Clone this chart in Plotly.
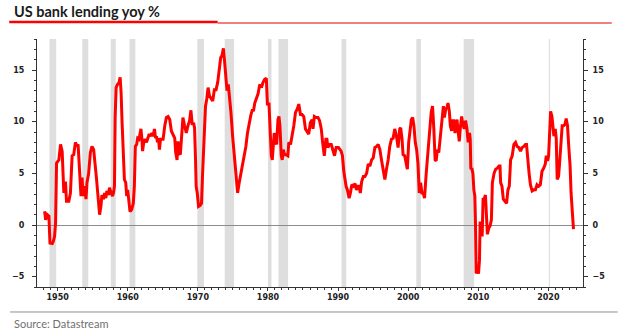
import plotly.graph_objects as go

# US bank lending, year-on-year % change (decimal years)
years = [
    1948.14, 1948.28, 1948.52, 1948.75, 1948.90,
    1949.23, 1949.37, 1949.56, 1949.70, 1949.79, 1949.84,
    1950.17, 1950.41, 1950.64, 1950.78, 1950.88,
    1951.11, 1951.26, 1951.59, 1951.82,
    1952.06, 1952.29, 1952.53, 1952.77, 1952.91,
    1953.10, 1953.33, 1953.48, 1953.62, 1953.85,
    1954.04, 1954.18, 1954.42, 1954.66, 1954.89,
    1955.13, 1955.27, 1955.51, 1955.69, 1955.98,
    1956.17, 1956.31, 1956.54, 1956.69, 1956.87,
    1957.02, 1957.25, 1957.39, 1957.63, 1957.82, 1957.96,
    1958.10, 1958.20, 1958.34, 1958.53, 1958.76, 1958.91,
    1959.05, 1959.19, 1959.38, 1959.52, 1959.71, 1959.85, 1959.99,
    1960.13, 1960.32, 1960.56, 1960.79, 1960.94,
    1961.08, 1961.27, 1961.41, 1961.60, 1961.74, 1961.88,
    1962.02, 1962.11, 1962.30, 1962.49, 1962.68, 1962.87,
    1963.06, 1963.25, 1963.44, 1963.62, 1963.81, 1963.96,
    1964.10, 1964.24, 1964.38, 1964.52, 1964.67, 1964.86,
    1965.04, 1965.28, 1965.51, 1965.75, 1965.99, 1966.22, 1966.46, 1966.70, 1966.84,
    1967.03, 1967.17, 1967.31, 1967.50, 1967.64, 1967.87,
    1968.11, 1968.35, 1968.58, 1968.82,
    1969.01, 1969.20, 1969.39, 1969.53, 1969.67, 1969.76, 1969.91,
    1970.10, 1970.33, 1970.52, 1970.66, 1970.80, 1970.94,
    1971.09, 1971.27, 1971.46, 1971.65, 1971.89,
    1972.12, 1972.36, 1972.60, 1972.83,
    1973.07, 1973.26, 1973.45, 1973.64, 1973.83,
    1974.01, 1974.16, 1974.34, 1974.49, 1974.72, 1974.96,
    1975.19, 1975.43, 1975.67, 1975.90,
    1976.14, 1976.37, 1976.61, 1976.85,
    1977.08, 1977.32, 1977.55, 1977.79, 1977.93,
    1978.12, 1978.36, 1978.59, 1978.83,
    1979.07, 1979.30, 1979.54, 1979.77, 1979.92,
    1980.15, 1980.29, 1980.48, 1980.62, 1980.76, 1980.90,
    1981.09, 1981.24, 1981.43, 1981.57, 1981.71, 1981.90,
    1982.04, 1982.18, 1982.37, 1982.61, 1982.84, 1982.98,
    1983.22, 1983.46, 1983.69, 1983.93,
    1984.17, 1984.40, 1984.64, 1984.87,
    1985.11, 1985.35, 1985.58, 1985.82,
    1986.05, 1986.29, 1986.43, 1986.62, 1986.85,
    1987.14, 1987.37, 1987.61, 1987.80,
    1988.04, 1988.27, 1988.41, 1988.55, 1988.79,
    1989.03, 1989.26, 1989.50, 1989.73,
    1990.06, 1990.44, 1990.63, 1990.82,
    1991.01, 1991.15, 1991.34, 1991.58, 1991.77, 1991.96,
    1992.19, 1992.43, 1992.62, 1992.81,
    1993.00, 1993.18, 1993.37, 1993.61, 1993.84,
    1994.08, 1994.31, 1994.55, 1994.79,
    1995.02, 1995.26, 1995.50, 1995.73, 1995.97,
    1996.20, 1996.44, 1996.68, 1996.91,
    1997.15, 1997.38, 1997.62, 1997.86,
    1998.09, 1998.33, 1998.57, 1998.80, 1998.94,
    1999.13, 1999.28, 1999.51, 1999.75, 1999.89,
    2000.08, 2000.27, 2000.46, 2000.65, 2000.83,
    2001.02, 2001.21, 2001.40, 2001.59, 2001.78, 2001.97,
    2002.15, 2002.34, 2002.58, 2002.81,
    2003.05, 2003.29, 2003.48, 2003.67, 2003.85,
    2004.00, 2004.18, 2004.37, 2004.56, 2004.84,
    2005.03, 2005.17, 2005.36, 2005.55, 2005.69, 2005.88,
    2006.02, 2006.21, 2006.36, 2006.50, 2006.69, 2006.83, 2006.97,
    2007.16, 2007.30, 2007.44, 2007.63, 2007.82,
    2008.01, 2008.19, 2008.38, 2008.57, 2008.76, 2008.86, 2008.95,
    2009.09, 2009.24, 2009.38, 2009.52, 2009.61, 2009.71, 2009.90,
    2010.04, 2010.18, 2010.27, 2010.41, 2010.56, 2010.70, 2010.84,
    2011.03, 2011.17, 2011.31, 2011.50, 2011.69, 2011.88,
    2012.02, 2012.26, 2012.49, 2012.73, 2012.97,
    2013.11, 2013.20, 2013.39, 2013.58, 2013.82,
    2014.05, 2014.24, 2014.43, 2014.62, 2014.85,
    2015.09, 2015.33, 2015.56, 2015.80,
    2016.04, 2016.27, 2016.51, 2016.74, 2016.89,
    2017.07, 2017.26, 2017.45, 2017.69, 2017.92,
    2018.16, 2018.39, 2018.63, 2018.86,
    2019.10, 2019.34, 2019.57, 2019.71, 2019.90,
    2020.04, 2020.19, 2020.33, 2020.52, 2020.66, 2020.80, 2020.99,
    2021.13, 2021.27, 2021.46, 2021.60, 2021.79, 2021.98,
    2022.17, 2022.36, 2022.55, 2022.74, 2022.92,
    2023.11, 2023.25, 2023.40, 2023.59,
]

lending_yoy = [
    1.33, 0.5, 1.0, 0.85, -1.75,
    -1.8, -1.6, -1.1, 0.2, 2.8, 6.0,
    6.3, 7.8, 7.15, 5.4, 3.1,
    4.2, 2.3, 2.3, 3.1,
    6.7, 6.8, 8.0, 7.6, 7.8,
    5.4, 2.8, 4.6, 2.8, 3.75,
    2.5, 4.1, 5.0, 7.0, 7.6,
    7.3, 6.0, 4.7, 3.3, 1.0,
    1.8, 2.9, 2.5, 3.1, 2.6,
    3.3, 2.9, 3.6, 3.1, 2.8, 3.1,
    3.75, 10.4, 13.3, 13.6, 13.8, 14.3,
    12.8, 9.9, 6.7, 4.4, 4.1, 2.8, 3.4,
    2.1, 1.3, 1.5, 2.1, 3.75,
    7.6, 7.8, 8.4, 8.3, 8.9, 9.3,
    8.3, 7.15, 8.1, 8.3, 8.0, 8.4,
    8.8, 8.6, 8.9, 8.6, 9.3, 8.4,
    8.6, 8.0, 8.4, 7.3, 8.3, 8.3,
    8.3, 9.6, 10.4, 10.5, 10.2, 9.1, 8.8, 8.4, 7.0,
    6.3, 8.1, 7.0, 6.8, 8.4, 10.4,
    9.6, 8.9, 9.6, 10.1,
    11.1, 9.7, 9.9, 9.4, 6.3, 3.75, 3.1,
    1.8, 1.9, 2.1, 4.7, 7.3, 8.4,
    11.5, 12.2, 13.3, 12.5, 12.3,
    12.0, 13.1, 13.1, 13.8,
    15.4, 16.2, 16.4, 17.1, 15.7,
    14.4, 13.0, 13.6, 12.7, 10.9, 8.6,
    6.7, 4.7, 3.1, 4.1,
    5.0, 6.0, 6.5, 7.6,
    8.9, 9.9, 10.6, 11.2, 11.0,
    11.8, 12.2, 12.7, 13.6,
    13.3, 13.8, 14.1, 14.2, 11.7,
    11.7, 9.6, 6.7, 6.3, 8.0, 8.9,
    8.0, 7.8, 10.2, 10.5, 9.6, 6.7,
    6.3, 7.3, 6.8, 6.8, 6.7, 8.0,
    7.8, 8.6, 9.6, 10.9,
    11.2, 11.7, 10.7, 10.7,
    10.5, 9.3, 9.1, 8.8,
    9.9, 10.2, 9.3, 10.5, 10.4,
    10.4, 10.1, 9.3, 8.0,
    6.7, 8.3, 8.3, 7.5, 7.8,
    7.8, 7.3, 6.7, 7.5,
    7.5, 7.15, 6.7, 5.2,
    4.2, 3.75, 3.4, 2.6, 3.1, 3.9,
    3.75, 4.0, 3.4, 3.75,
    3.75, 3.1, 4.2, 4.7, 4.7,
    5.0, 5.9, 5.7, 6.3,
    6.5, 7.5, 7.6, 7.8, 7.3,
    6.3, 5.4, 4.4, 5.4,
    6.3, 7.6, 8.3, 8.4,
    9.3, 8.6, 7.5, 9.3, 9.4,
    8.3, 6.8, 6.7, 6.0, 5.4,
    8.0, 9.3, 10.2, 10.4, 9.6,
    8.0, 7.3, 6.0, 3.1, 4.1, 3.1,
    3.1, 2.6, 5.0, 7.3,
    8.9, 10.9, 11.5, 9.3, 6.3,
    6.2, 7.3, 7.0, 8.3, 10.2,
    11.5, 10.4, 11.2, 11.4, 11.8, 11.0,
    9.6, 9.1, 10.1, 10.1, 8.9, 9.9, 10.2,
    8.9, 8.1, 9.3, 10.5, 9.7,
    9.3, 10.1, 9.4, 8.0, 8.9, 8.3, 5.4,
    5.5, 5.0, 3.4, 2.8, 0.2, -4.7, -4.3,
    -4.7, -3.4, 0.2, 0.2, -1.1, 2.6, 2.5,
    2.9, 0.5, -0.9, -0.3, -0.1, 0.5,
    4.1, 5.0, 5.4, 5.5, 5.7,
    5.7, 4.1, 3.75, 2.5, 2.3,
    2.1, 3.4, 3.75, 6.3, 6.7,
    7.8, 8.0, 7.6, 7.5,
    7.15, 7.5, 7.6, 7.8, 7.8,
    6.0, 5.0, 3.9, 3.3, 3.4,
    3.4, 3.9, 3.75, 3.9,
    5.2, 5.5, 5.9, 6.7, 6.2,
    6.7, 8.9, 11.0, 10.5, 9.6, 8.6, 9.3,
    8.4, 4.4, 4.7, 5.9, 7.6, 9.6,
    9.6, 9.7, 10.3, 9.6, 7.6,
    5.7, 3.1, 0.85, -0.4,
]

# NBER recession periods (decimal years)
recession_start = [1948.83, 1953.50, 1957.58, 1960.25, 1969.92, 1973.83,
                   1980.00, 1981.50, 1990.50, 2001.17, 2007.92, 2020.08]
recession_end = [1949.79, 1954.37, 1958.29, 1961.08, 1970.87, 1975.17,
                 1980.50, 1982.87, 1991.17, 2001.83, 2009.42, 2020.25]

decade_ticks = [1950, 1960, 1970, 1980, 1990, 2000, 2010, 2020]
value_ticks = [-5, 0, 5, 10, 15]

assert len(years) == len(lending_yoy)

tick_font = dict(family="DejaVu Sans", size=8, color="#222222", weight="bold")
AX = "#333333"

fig = go.Figure()
fig.add_trace(go.Scatter(
    x=years, y=lending_yoy, mode="lines",
    line=dict(color="#ff0000", width=3),
    hoverinfo="skip", showlegend=False,
))
# carrier so the right-hand value axis is drawn
fig.add_trace(go.Scatter(
    x=[years[0]], y=[lending_yoy[0]], yaxis="y2", mode="lines",
    line=dict(color="rgba(0,0,0,0)", width=0),
    hoverinfo="skip", showlegend=False,
))

shapes = []
for s, e in zip(recession_start, recession_end):
    shapes.append(dict(type="rect", xref="x", yref="paper", x0=s, x1=e, y0=0, y1=1,
                       fillcolor="#dedede", line=dict(width=0), layer="below"))

# headline rule (thick red segment + thin continuation) and footer rule
shapes.append(dict(type="line", xref="paper", yref="paper",
                   x0=-0.0509, x1=0.3309, y0=1.0685, y1=1.0685,
                   line=dict(color="#ff0000", width=2.5)))
shapes.append(dict(type="line", xref="paper", yref="paper",
                   x0=0.3309, x1=1.0527, y0=1.0645, y1=1.0645,
                   line=dict(color="#e00000", width=1)))
shapes.append(dict(type="line", xref="paper", yref="paper",
                   x0=-0.0491, x1=1.0636, y0=-0.1008, y1=-0.1008,
                   line=dict(color="#8f8f8f", width=1)))

yaxis_common = dict(
    range=[-6, 18], tickvals=value_ticks, ticks="outside", ticklen=4,
    tickcolor=AX, showline=True, linecolor=AX, linewidth=1, showgrid=False,
    tickfont=tick_font,
    minor=dict(dtick=1, tick0=0, ticks="outside", ticklen=2, tickcolor=AX, showgrid=False),
)

fig.update_layout(
    width=621, height=334,
    margin=dict(l=33, r=38, t=39, b=47),
    paper_bgcolor="white", plot_bgcolor="white",
    shapes=shapes,
    xaxis=dict(
        range=[1947.05, 2024.95], tickvals=decade_ticks, ticks="outside", ticklen=3,
        tickcolor=AX, showline=True, linecolor=AX, linewidth=1, showgrid=False,
        zeroline=False, tickfont=tick_font, ticklabelstandoff=-1,
        minor=dict(dtick=1, tick0=1950, ticks="outside", ticklen=2, tickcolor=AX, showgrid=False),
    ),
    yaxis=dict(**yaxis_common, side="left", zeroline=True, zerolinecolor="#8c8c8c",
               zerolinewidth=1, ticklabelstandoff=6),
    yaxis2=dict(**yaxis_common, side="right", overlaying="y", zeroline=False,
                ticklabelstandoff=3),
    annotations=[
        dict(text="<b>US bank lending yoy %</b>", xref="paper", yref="paper",
             x=-0.04545, y=1.1089, xanchor="left", yanchor="middle", showarrow=False,
             font=dict(family="Lato", size=14.5, color="#1a1a1a")),
        dict(text="Source: Datastream", xref="paper", yref="paper",
             x=-0.04545, y=-0.149, xanchor="left", yanchor="middle", showarrow=False,
             font=dict(family="Lato", size=11, color="#707070")),
    ],
)

fig.write_html("out.html")
